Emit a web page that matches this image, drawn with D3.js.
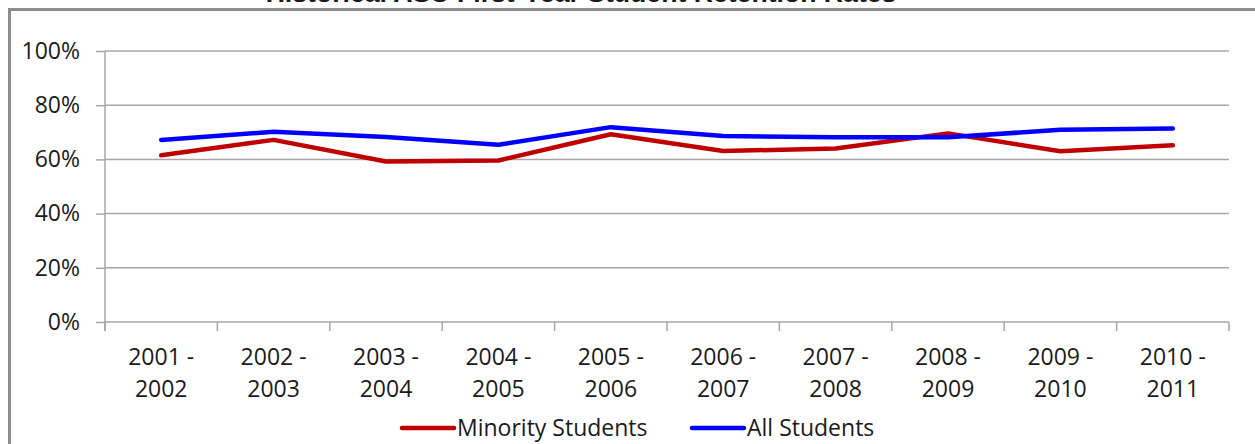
<!DOCTYPE html>
<html>
<head>
<meta charset="utf-8">
<script src="https://cdn.jsdelivr.net/npm/d3@7/dist/d3.min.js"></script>
<style>
  html, body { margin: 0; padding: 0; background: #fff; }
  svg { display: block; }
  text { font-family: "Open Sans", Lato, sans-serif; fill: #1a1a1a; }
</style>
</head>
<body>
<svg id="chart" width="1255" height="444"></svg>
<script>
const title = "Historical ASU First-Year Student Retention Rates";
const categories = ["2001 - 2002", "2002 - 2003", "2003 - 2004", "2004 - 2005", "2005 - 2006",
                    "2006 - 2007", "2007 - 2008", "2008 - 2009", "2009 - 2010", "2010 - 2011"];
const minorityStudents = [61.5, 67.2, 59.2, 59.6, 69.3, 63.1, 64.0, 69.6, 63.0, 65.2];
const allStudents      = [67.2, 70.2, 68.3, 65.4, 71.9, 68.6, 68.2, 68.2, 70.9, 71.4];
const yTicks = [0, 20, 40, 60, 80, 100];
const seriesNames = ["Minority Students", "All Students"];
const seriesColors = ["#C00000", "#0000FF"];

(function() {
const svg = d3.select("#chart");
const W = 1255, H = 444;
const pLeft = 105, pRight = 1229, pTop = 51, pBottom = 322;
const FS = "23px";

// frame
svg.append("path")
  .attr("d", `M9.5,${H} L9.5,9.5 L${W},9.5`)
  .attr("fill", "none").attr("stroke", "#8c8c8c").attr("stroke-width", 3);

// title (cut off at top)
const tt = svg.append("text")
  .attr("x", 581).attr("y", 2)
  .attr("text-anchor", "middle")
  .style("font-family", "Arial, 'Liberation Sans', sans-serif")
  .style("font-weight", "bold").style("font-size", "22px")
  .text(title);
const tw = tt.node().getComputedTextLength();
tt.style("font-size", (22 * 631 / tw).toFixed(2) + "px");

const x = d3.scaleBand().domain(categories).range([pLeft, pRight]).padding(0);
const y = d3.scaleLinear().domain([0, 100]).range([pBottom, pTop]);

// gridlines
svg.append("g").selectAll("line").data(yTicks.filter(d => d > 0)).join("line")
  .attr("x1", pLeft).attr("x2", pRight)
  .attr("y1", d => y(d)).attr("y2", d => y(d))
  .attr("stroke", "#a6a6a6").attr("stroke-width", 1.5);

// y axis
const yAxis = d3.axisLeft(y).tickValues(yTicks).tickFormat(d => d + "%").tickSize(9).tickPadding(16);
const gy = svg.append("g").attr("transform", `translate(${pLeft},0)`).call(yAxis);
gy.select(".domain").attr("d", `M0,${pTop} V${pBottom + 9}`).attr("stroke", "#a6a6a6").attr("stroke-width", 1.5);
gy.selectAll(".tick line").attr("stroke", "#a6a6a6").attr("stroke-width", 1.5);
gy.selectAll(".tick text").style("font-size", FS).style("font-family", "'Open Sans', sans-serif").attr("fill", "#1a1a1a");

// x axis baseline and ticks at category boundaries
const bounds = categories.map(c => x(c)).concat([pRight]);
svg.append("line").attr("x1", pLeft).attr("x2", pRight).attr("y1", pBottom).attr("y2", pBottom)
  .attr("stroke", "#a6a6a6").attr("stroke-width", 1.5);
svg.append("g").selectAll("line").data(bounds).join("line")
  .attr("x1", d => d).attr("x2", d => d).attr("y1", pBottom).attr("y2", pBottom + 9)
  .attr("stroke", "#a6a6a6").attr("stroke-width", 1.5);

// category labels (two lines)
const lab = svg.append("g").selectAll("text").data(categories).join("text")
  .attr("text-anchor", "middle")
  .style("font-size", FS);
lab.each(function(d) {
  const parts = d.split(" - ");
  const cx = x(d) + x.bandwidth() / 2;
  const t = d3.select(this);
  t.append("tspan").attr("x", cx).attr("y", 365).text(parts[0] + " -");
  t.append("tspan").attr("x", cx).attr("y", 397).text(parts[1]);
});

// lines
const line = d3.line()
  .x((d, i) => x(categories[i]) + x.bandwidth() / 2)
  .y(d => y(d));
[minorityStudents, allStudents].forEach((s, i) => {
  svg.append("path").datum(s)
    .attr("d", line)
    .attr("fill", "none")
    .attr("stroke", seriesColors[i])
    .attr("stroke-width", 4.5)
    .attr("stroke-linejoin", "round")
    .attr("stroke-linecap", "round");
});

// legend
const legendItems = [{x: 400, name: seriesNames[0], c: seriesColors[0]},
                     {x: 690, name: seriesNames[1], c: seriesColors[1]}];
const lg = svg.append("g");
legendItems.forEach(it => {
  lg.append("line").attr("x1", it.x + 2).attr("x2", it.x + 54).attr("y1", 428).attr("y2", 428)
    .attr("stroke", it.c).attr("stroke-width", 4.5).attr("stroke-linecap", "round");
  lg.append("text").attr("x", it.x + 57).attr("y", 436).style("font-size", FS).text(it.name);
});
})();
</script>
</body>
</html>
